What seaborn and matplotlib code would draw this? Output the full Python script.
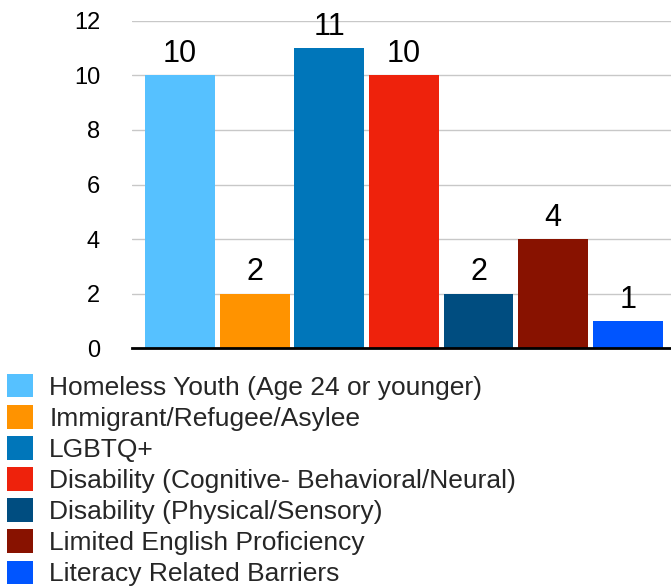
import matplotlib
matplotlib.use("Agg")
import matplotlib.pyplot as plt
from matplotlib.patches import Rectangle
import seaborn as sns
import pandas as pd

categories = [
    "Homeless Youth (Age 24 or younger)",
    "Immigrant/Refugee/Asylee",
    "LGBTQ+",
    "Disability (Cognitive- Behavioral/Neural)",
    "Disability (Physical/Sensory)",
    "Limited English Proficiency",
    "Literacy Related Barriers",
]
counts = [10, 2, 11, 10, 2, 4, 1]
colors = ["#56C1FF", "#FF9300", "#0076BA", "#EE220C", "#004D80", "#881200", "#0055FF"]
y_ticks = [0, 2, 4, 6, 8, 10, 12]

sns.set_theme(style="white")
plt.rcParams["font.family"] = ["Liberation Sans", "DejaVu Sans"]

df = pd.DataFrame({"group": categories, "count": counts})

fig = plt.figure(figsize=(6.71, 5.86), dpi=100)
ax = fig.add_axes([0.1967, 0.4061, 0.8033, 0.5581])

sns.barplot(data=df, x="group", y="count", hue="group", palette=colors,
            width=0.935, legend=False, ax=ax, saturation=1, linewidth=0)

ax.set_ylim(0, 12)
ax.set_xlim(-0.645, 6.58)
ax.set_yticks(y_ticks)
ax.set_yticklabels([str(t) for t in y_ticks], fontsize=17)
ax.tick_params(axis="y", length=0, pad=23, colors="#000000")
ax.set_xticks([])
ax.set_xlabel("")
ax.set_ylabel("")

ax.yaxis.grid(True, color="#c8c8c8", linewidth=1.0)
ax.set_axisbelow(True)
for side in ["left", "right", "top"]:
    ax.spines[side].set_visible(False)
ax.spines["bottom"].set_color("#000000")
ax.spines["bottom"].set_linewidth(2.0)
ax.spines["bottom"].set_zorder(5)

for cont in ax.containers:
    ax.bar_label(cont, fmt="%g", padding=4.5, fontsize=22, color="#000000", clip_on=False)

handles = [Rectangle((0, 0), 1, 1, facecolor=c, edgecolor="none") for c in colors]
fig.legend(handles, categories, loc="upper left", bbox_to_anchor=(0.0104, 0.362),
           frameon=False, fontsize=19, handlelength=1.0, handleheight=1.0,
           handletextpad=0.6, labelspacing=0.2, borderaxespad=0.0,
           borderpad=0.0)

fig.savefig("out.png", dpi=100)
